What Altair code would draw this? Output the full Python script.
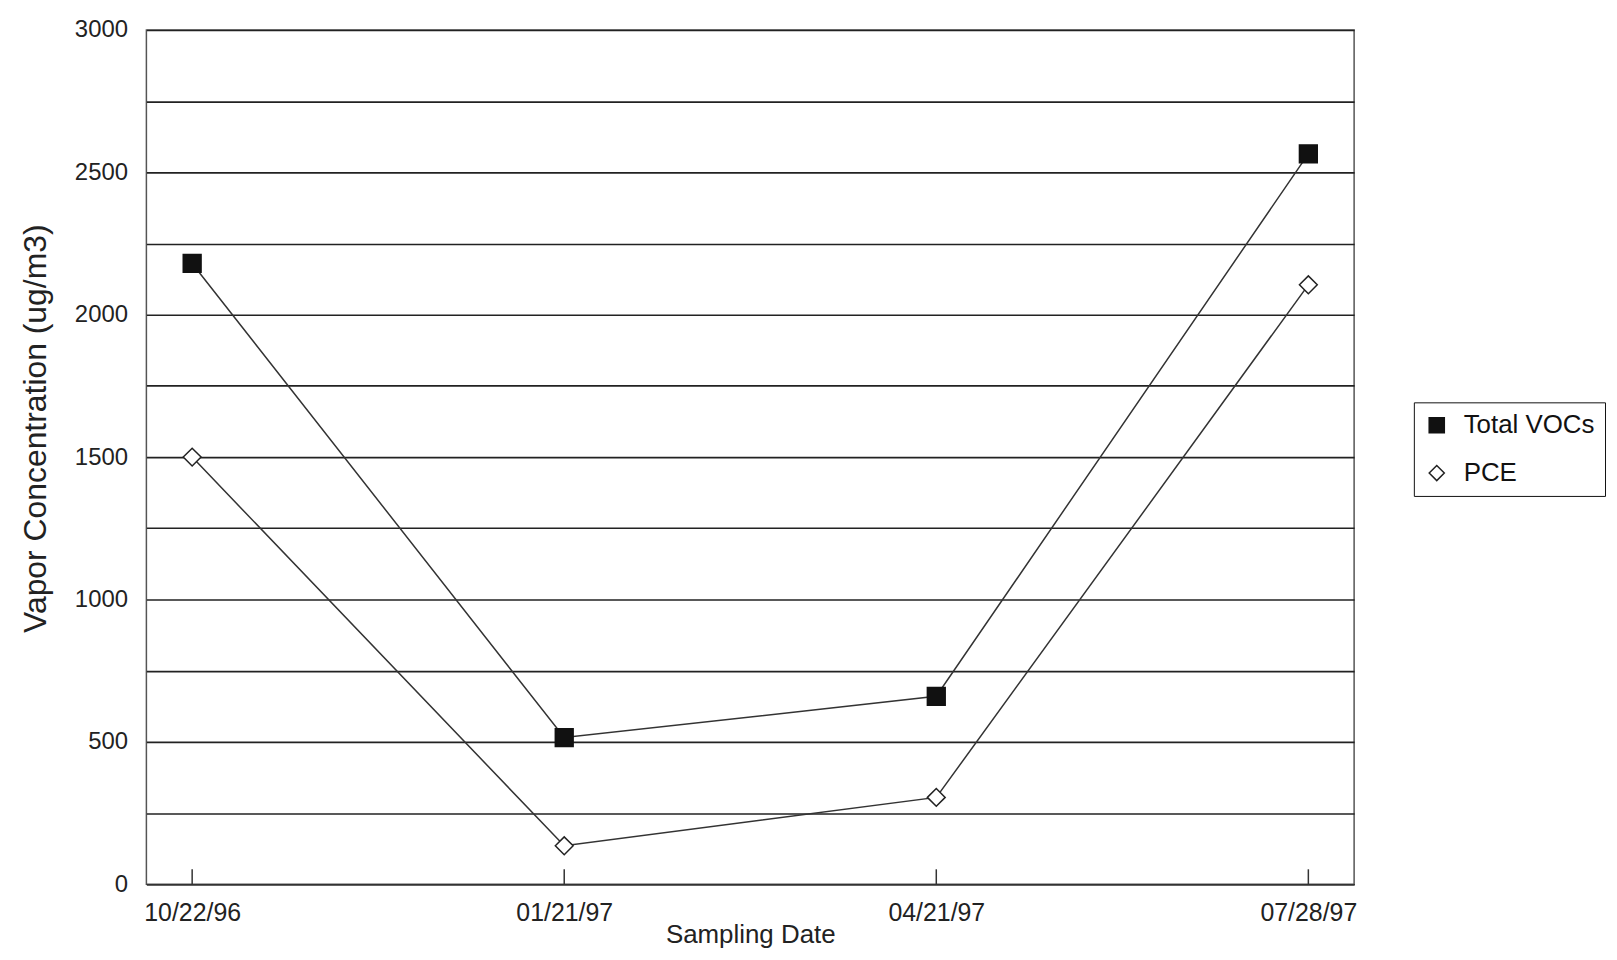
import altair as alt
import pandas as pd

dates = ["10/22/96", "01/21/97", "04/21/97", "07/28/97"]
total_vocs = [2180, 515, 660, 2565]
pce = [1500, 135, 305, 2105]
series_names = ["Total VOCs", "PCE"]
y_ticks = list(range(0, 3001, 250))

rows = []
for d, v in zip(dates, total_vocs):
    rows.append({"date": d, "value": v, "series": "Total VOCs"})
for d, v in zip(dates, pce):
    rows.append({"date": d, "value": v, "series": "PCE"})
df = pd.DataFrame(rows)
tick_df = pd.DataFrame({"date": dates})

W, H = 1213, 858
FONT = "Liberation Sans"

x_enc = alt.X(
    "date:O",
    sort=dates,
    scale=alt.Scale(type="point", padding=0.123),
    axis=alt.Axis(
        title="Sampling Date",
        labelAngle=0,
        ticks=False,
        domain=True,
        domainColor="#333333",
        domainWidth=1.6,
        labelFontSize=25,
        labelPadding=16,
        labelColor="#222222",
        titleFontSize=26,
        titleFontWeight="normal",
        titleColor="#222222",
        titleY=51,
        titleBaseline="middle",
        grid=False,
    ),
)

y_enc = alt.Y(
    "value:Q",
    scale=alt.Scale(domain=[0, 3000], nice=False),
    axis=alt.Axis(
        title="Vapor Concentration (ug/m3)",
        values=y_ticks,
        format="d",
        labelExpr="datum.value % 500 == 0 ? datum.label : ''",
        ticks=False,
        domain=False,
        labelFontSize=24,
        labelPadding=19,
        labelColor="#222222",
        titleFontSize=32,
        titleFontWeight="normal",
        titleColor="#222222",
        titleX=-111,
        titleY=400,
        titleBaseline="middle",
        grid=True,
        gridColor="#222222",
        gridWidth=1.6,
        gridOpacity=1,
    ),
)

lines = alt.Chart(df).mark_line(color="#333333", strokeWidth=1.5).encode(
    x=x_enc,
    y=y_enc,
    detail="series:N",
)

legend = alt.Legend(
    title=None,
    orient="none",
    legendX=1273,
    legendY=374,
    strokeColor="#111111",
    fillColor="white",
    padding=10,
    labelFontSize=26,
    labelColor="#111111",
    labelOffset=14,
    rowPadding=22,
    symbolSize=230,
    symbolStrokeWidth=1.5,
)

points = alt.Chart(df).mark_point(
    filled=False, strokeWidth=1.5, opacity=1, size=320
).encode(
    x=alt.X("date:O", sort=dates),
    y=alt.Y("value:Q"),
    fill=alt.Fill(
        "series:N",
        scale=alt.Scale(domain=series_names, range=["#111111", "white"]),
        legend=legend,
    ),
    stroke=alt.Stroke(
        "series:N",
        scale=alt.Scale(domain=series_names, range=["#111111", "#222222"]),
        legend=legend,
    ),
    shape=alt.Shape(
        "series:N",
        scale=alt.Scale(domain=series_names, range=["square", "diamond"]),
        legend=legend,
    ),
)

ticks = alt.Chart(tick_df).mark_rule(color="#333333", strokeWidth=1.5).encode(
    x=alt.X("date:O", sort=dates),
    y=alt.value(H - 15),
    y2=alt.value(H),
)

chart = (
    alt.layer(lines, ticks, points)
    .properties(
        width=W,
        height=H,
        autosize=alt.AutoSizeParams(type="none"),
        padding={"left": 139, "top": 20, "right": 256, "bottom": 64},
        background="white",
    )
    .configure(font=FONT)
    .configure_view(stroke="#555555", strokeWidth=1.5)
)

chart.save("out.html", embed_options={"renderer": "svg", "actions": False})
